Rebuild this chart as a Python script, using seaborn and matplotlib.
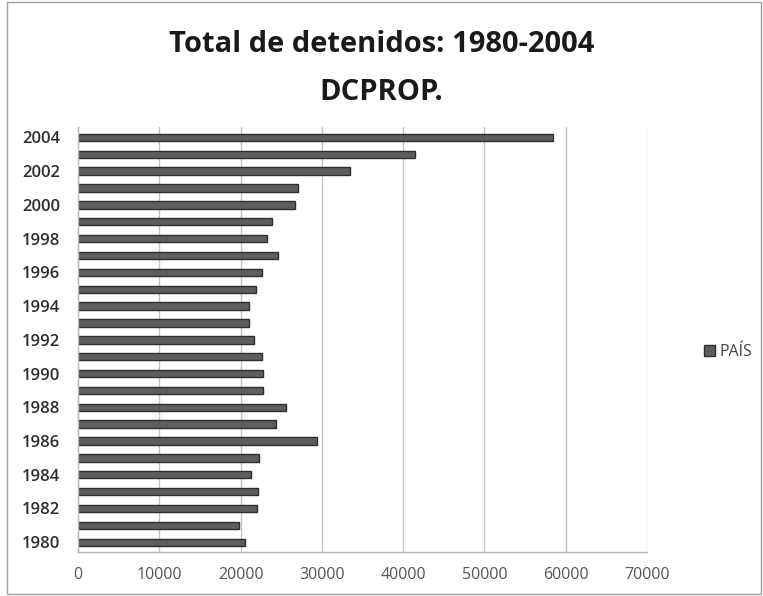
import matplotlib
matplotlib.use("Agg")
import matplotlib.pyplot as plt
from matplotlib.patches import Patch, Rectangle
import seaborn as sns
import pandas as pd

# Detainees per year, DCPROP
years = [2004, 2003, 2002, 2001, 2000, 1999, 1998, 1997, 1996, 1995, 1994, 1993,
         1992, 1991, 1990, 1989, 1988, 1987, 1986, 1985, 1984, 1983, 1982, 1981, 1980]
detenidos = [58400, 41500, 33500, 27100, 26650, 23900, 23200, 24550, 22600, 21850,
             21050, 21050, 21700, 22650, 22800, 22800, 25650, 24350, 29350, 22300,
             21250, 22200, 22000, 19850, 20550]
x_ticks = [0, 10000, 20000, 30000, 40000, 50000, 60000, 70000]
series_name = "PAÍS"

df = pd.DataFrame({"year": [str(y) for y in years], "value": detenidos})

sns.set_theme(style="white")
plt.rcParams["font.family"] = ["Open Sans", "DejaVu Sans"]

fig = plt.figure(figsize=(7.63, 5.96), dpi=100)
ax = fig.add_axes([78 / 763, 1 - 552 / 596, (647 - 78) / 763, (552 - 127) / 596])

sns.barplot(data=df, x="value", y="year", order=df["year"].tolist(), orient="h",
            color="#5e5e5e", edgecolor="#2e2e2e", linewidth=1.0, width=0.44,
            saturation=1, ax=ax)

ax.set_xlim(0, 70000)
ax.set_ylim(len(years) - 0.42, -0.62)
ax.set_xticks(x_ticks)
ax.set_xticklabels([str(t) for t in x_ticks], fontsize=11.5, color="#555555")
ax.set_yticks(range(0, len(years), 2))
ax.set_yticklabels([str(years[i]) for i in range(0, len(years), 2)],
                   fontsize=12, color="#2e2e2e", fontweight="semibold")
ax.tick_params(axis="x", pad=11, length=0)
ax.tick_params(axis="y", pad=13, length=0)
ax.set_xlabel("")
ax.set_ylabel("")
ax.xaxis.grid(True, color="#c4c4c4", linewidth=1.0)
ax.set_axisbelow(True)
for s in ["top", "right"]:
    ax.spines[s].set_visible(False)
for s in ["left", "bottom"]:
    ax.spines[s].set_color("#b8b8b8")
    ax.spines[s].set_linewidth(1.0)

fig.text(0.5, 1 - 45 / 596, "Total de detenidos: 1980-2004", ha="center", va="center",
         fontsize=21, fontweight="bold", color="#1a1a1a")
fig.text(0.5, 1 - 93 / 596, "DCPROP.", ha="center", va="center",
         fontsize=21, fontweight="bold", color="#1a1a1a")

handle = Patch(facecolor="#5e5e5e", edgecolor="#2e2e2e", label=series_name)
fig.legend(handles=[handle], loc="center left", bbox_to_anchor=(690 / 763, 1 - 352 / 596),
           frameon=False, fontsize=11.5, handlelength=0.65, handleheight=0.65,
           handletextpad=0.3, labelcolor="#444444")

fig.patches.append(Rectangle((7 / 763, 2 / 596), 1 - 9 / 763, 1 - 4 / 596,
                             transform=fig.transFigure, fill=False,
                             edgecolor="#a0a0a0", linewidth=1.0))

fig.savefig("out.png", dpi=100)
